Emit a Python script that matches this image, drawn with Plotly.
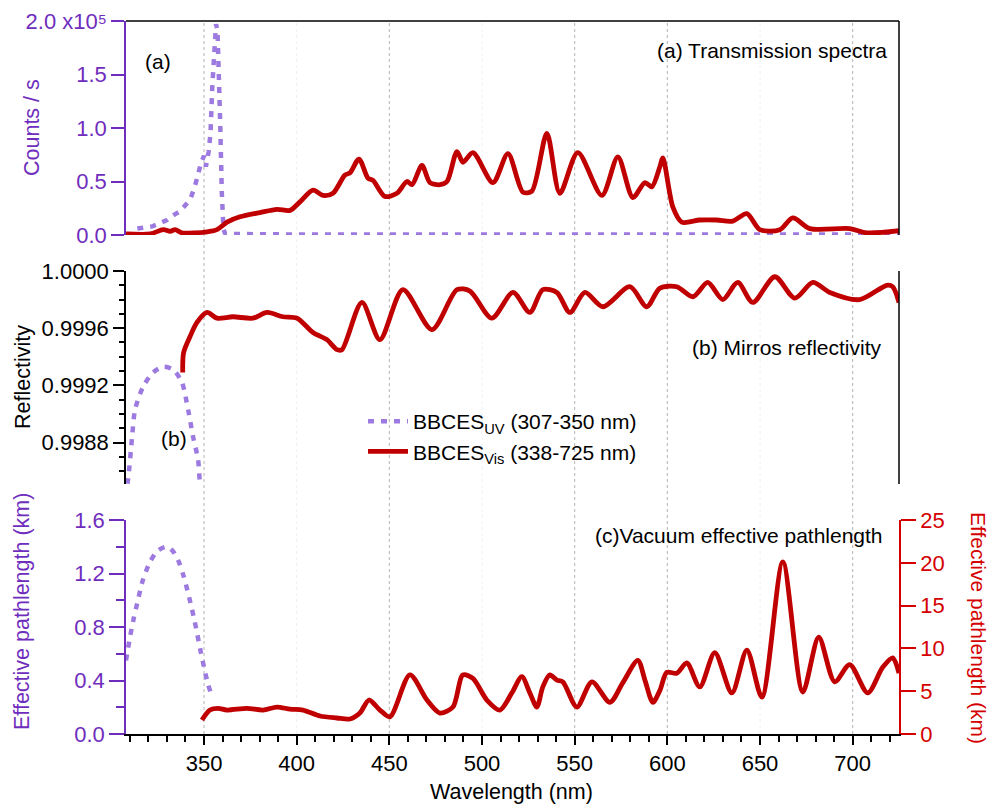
import plotly.graph_objects as go

# ---------------- data ----------------
# (a) transmission spectra, counts/s in units of 1e5
uv_a_wl = [314, 318, 322, 326, 330, 334, 337, 340, 342.5, 345, 347, 348.5, 350, 351, 352.5,
           353.5, 354.5, 355.5, 356.5, 357.3, 358, 358.8, 359.6, 360.5, 361.5, 400, 500, 600, 725]
uv_a_counts = [0.06, 0.065, 0.08, 0.11, 0.14, 0.19, 0.22, 0.28, 0.33, 0.45, 0.6, 0.68, 0.74, 0.64, 0.78,
               0.95, 1.4, 1.8, 1.97, 1.9, 1.6, 1.0, 0.4, 0.05, 0.01, 0.005, 0.005, 0.005, 0.005]

vis_a_wl = [307.9, 321, 328, 331.7, 334.4, 338, 345, 351.6, 357, 362.4, 369.4, 380.2, 389.4, 396.4,
            401.8, 408.8, 414.2, 419.6, 426, 428.7, 433.6, 438.5, 441.2, 447.6, 454.1, 459.5, 462.2,
            467.6, 471.9, 477.3, 481.1, 486.5, 489.7, 495.1, 505.9, 514, 522.1, 526.9, 535, 542,
            551.7, 564.7, 573.3, 581.4, 587.9, 591.6, 596, 597.6, 603, 607.8, 617.5, 626.7, 635.3,
            642.9, 649.9, 660.7, 667.7, 676.9, 698.4, 707.6, 725]
vis_a_counts = [0.01, 0.01, 0.05, 0.035, 0.05, 0.02, 0.02, 0.03, 0.05, 0.12, 0.17, 0.21, 0.24, 0.23,
                0.31, 0.42, 0.37, 0.39, 0.56, 0.58, 0.71, 0.53, 0.51, 0.36, 0.39, 0.5, 0.47,
                0.65, 0.49, 0.47, 0.5, 0.78, 0.68, 0.77, 0.49, 0.76, 0.40, 0.41, 0.95, 0.39,
                0.77, 0.37, 0.73, 0.35, 0.49, 0.45, 0.64, 0.72, 0.26, 0.12, 0.14, 0.14, 0.13,
                0.2, 0.05, 0.05, 0.16, 0.06, 0.06, 0.02, 0.04]

# (b) mirror reflectivity
uv_b_wl = [307.5, 309, 311.2, 312.8, 317.1, 322.5, 327.9, 333.3, 338.1, 341.4, 344.1, 346.8, 347.8, 349.5]
uv_b_refl = [0.99842, 0.99854, 0.99884, 0.99903, 0.99919, 0.99929, 0.99933, 0.99931, 0.99922, 0.99903,
             0.99884, 0.99868, 0.99852, 0.99840]

vis_b_wl = [338.5, 339, 342.4, 346.2, 351.6, 357, 365.6, 376.4, 384, 392.6, 400.2, 408.8, 416.3, 421.7,
            424.4, 435.2, 444.9, 457.3, 473, 486.5, 493.5, 505.3, 516.7, 525.8, 532.8, 540.4, 547.4,
            555.5, 565.2, 579.8, 588.9, 596, 605.1, 613.8, 621.8, 629.9, 638, 646.1, 658, 668.8,
            678.5, 687.7, 703.8, 718.4, 721.6, 725]
vis_b_refl = [0.99929, 0.99943, 0.99954, 0.99964, 0.99971, 0.99967, 0.99968, 0.99967, 0.99971, 0.99968,
              0.99967, 0.99957, 0.99952, 0.99945, 0.99945, 0.99978, 0.99952, 0.99987, 0.99959, 0.99987,
              0.99986, 0.99967, 0.99985, 0.99971, 0.99987, 0.99985, 0.99971, 0.99985, 0.99975, 0.99989,
              0.99975, 0.99988, 0.99989, 0.99982, 0.99992, 0.99980, 0.99992, 0.99978, 0.99996, 0.99981,
              0.99992, 0.99985, 0.99980, 0.99990, 0.99989, 0.99978]

# (c) vacuum effective pathlength (km)
uv_c_wl = [307.9, 310, 312, 314, 317, 321, 325, 330, 333, 336, 339, 342, 345, 348, 350, 352, 354.3]
uv_c_len = [0.55, 0.72, 0.86, 0.98, 1.15, 1.29, 1.37, 1.40, 1.37, 1.30, 1.18, 1.02, 0.84, 0.63, 0.50, 0.38, 0.28]

vis_c_wl = [348.9, 353.2, 357.6, 362.4, 373.2, 381.8, 389.4, 396.4, 403.4, 412.6, 421.7, 428.7, 434.1,
            439, 444.9, 450.3, 461.1, 470.3, 477.3, 484.3, 489.7, 495.1, 502.6, 509.7, 516.1, 521.5,
            525.8, 529.6, 532.8, 536.6, 540.4, 543.6, 551.2, 559.3, 569, 576, 584.1, 587.9, 592.2,
            596, 599.7, 605.1, 610.5, 617.5, 625.6, 634.8, 642.9, 651, 662.3, 673.1, 681.7, 690.3,
            698.4, 708.1, 716.2, 721.6, 725]
vis_c_len = [1.64, 2.8, 3.0, 2.8, 3.0, 2.8, 3.15, 2.9, 2.8, 2.1, 1.87, 1.75, 2.45,
             3.97, 2.8, 2.0, 6.9, 3.97, 2.45, 3.15, 6.9, 6.5, 3.97, 2.8, 4.8, 6.7,
             4.8, 3.15, 5.5, 6.9, 6.3, 6.1, 3.15, 6.1, 3.7, 6.0, 8.6, 6.3, 3.7,
             5.1, 7.2, 7.1, 8.3, 5.5, 9.5, 4.8, 9.8, 4.3, 20.1, 4.9, 11.3, 6.1,
             8.1, 4.8, 7.8, 8.9, 7.1]

x_ticks = [350, 400, 450, 500, 550, 600, 650, 700]
counts_ticks = [0, 0.5, 1.0, 1.5, 2.0]
counts_ticktext = ["0.0", "0.5", "1.0", "1.5", "2.0 x10⁵"]
refl_ticks = [0.9988, 0.9992, 0.9996, 1.0000]
uvlen_ticks = [0, 0.4, 0.8, 1.2, 1.6]
vislen_ticks = [0, 5, 10, 15, 20, 25]

# ---------------- style ----------------
FONT = "Liberation Sans, Arial, sans-serif"
PURPLE_LINE = "#9d7ae0"
PURPLE_AX = "#6f2dbd"
RED_LINE = "#c00000"
RED_AX = "#d40000"
DASH = "6px,7px"
FAINT_GRID = {400, 500, 650}

W, H = 987, 801      # page body has an 8px margin
OFF = 8

def fx(x):
    return (x - OFF) / W

def fy(y):
    return 1 - (y - OFF) / H

XR = [307.9, 725]
XD = [fx(126), fx(899)]
DOM_A = [fy(235), fy(21)]
DOM_B = [fy(484), fy(271)]
DOM_C = [fy(734), fy(520)]

fig = go.Figure()
fig.add_trace(go.Scatter(x=uv_a_wl, y=uv_a_counts, xaxis="x2", yaxis="y4", mode="lines",
                         line=dict(color=PURPLE_LINE, width=4.5, dash=DASH), showlegend=False))
fig.add_trace(go.Scatter(x=vis_a_wl, y=vis_a_counts, xaxis="x2", yaxis="y4", mode="lines",
                         line=dict(color=RED_LINE, width=4.8, shape="spline", smoothing=0.8),
                         showlegend=False))
fig.add_trace(go.Scatter(x=uv_b_wl, y=uv_b_refl, xaxis="x3", yaxis="y3", mode="lines",
                         name="BBCES<sub>UV</sub> (307-350 nm)",
                         line=dict(color=PURPLE_LINE, width=4.5, dash=DASH, shape="spline", smoothing=0.8)))
fig.add_trace(go.Scatter(x=vis_b_wl, y=vis_b_refl, xaxis="x3", yaxis="y3", mode="lines",
                         name="BBCES<sub>Vis</sub> (338-725 nm)",
                         line=dict(color=RED_LINE, width=4.8, shape="spline", smoothing=0.8)))
fig.add_trace(go.Scatter(x=uv_c_wl, y=uv_c_len, xaxis="x", yaxis="y", mode="lines",
                         line=dict(color=PURPLE_LINE, width=4.5, dash=DASH, shape="spline", smoothing=0.8),
                         showlegend=False))
fig.add_trace(go.Scatter(x=vis_c_wl, y=vis_c_len, xaxis="x", yaxis="y2", mode="lines",
                         line=dict(color=RED_LINE, width=4.8, shape="spline", smoothing=0.8),
                         showlegend=False))

tickfont_black = dict(family=FONT, size=22, color="black")

shapes = []
for v in x_ticks:
    col = "#f0f0f0" if v in FAINT_GRID else "#b4b4b4"
    shapes.append(dict(type="line", xref="x", yref="paper", x0=v, x1=v, y0=DOM_C[0], y1=DOM_A[1],
                       line=dict(color=col, width=1, dash="dot"), layer="below"))
# frame lines of panel (a) and right edge of panel (b)
shapes.append(dict(type="line", xref="x2 domain", yref="y4 domain", x0=0, x1=1, y0=1, y1=1,
                   line=dict(color="black", width=1.5)))
shapes.append(dict(type="line", xref="x2 domain", yref="y4 domain", x0=1, x1=1, y0=0, y1=1,
                   line=dict(color="black", width=1.5)))
shapes.append(dict(type="line", xref="x3 domain", yref="y3 domain", x0=1, x1=1, y0=0, y1=1,
                   line=dict(color="black", width=1.5)))

annotations = []
def ann(text, x, y, color="black", size=21, angle=0, xanchor="center"):
    annotations.append(dict(text=text, x=fx(x), y=fy(y), xref="paper", yref="paper", showarrow=False,
                            textangle=angle, xanchor=xanchor, yanchor="middle",
                            font=dict(family=FONT, size=size, color=color)))

ann("Counts / s", 32, 128, PURPLE_AX, 21.5, -90)
ann("Reflectivity", 23, 377, "black", 21.5, -90)
ann("Effective pathlength (km)", 22, 612, PURPLE_AX, 21.5, -90)
ann("Effective pathlength (km)", 979, 628, RED_AX, 21, 90)
ann("Wavelength (nm)", 512, 792, "black", 21.5)
ann("(a)", 158, 62)
ann("(a) Transmission spectra", 889, 50, xanchor="right")
ann("(b) Mirros reflectivity", 884, 348, xanchor="right")
ann("(b)", 174, 438)
ann("(c)Vacuum effective pathlength", 885, 535, xanchor="right")

axis_common = dict(automargin=False)

fig.update_layout(
    width=W, height=H,
    margin=dict(l=0, r=0, t=0, b=0, autoexpand=False),
    paper_bgcolor="white", plot_bgcolor="rgba(0,0,0,0)",
    font=dict(family=FONT, size=21, color="black"),
    showlegend=True,
    legend=dict(x=fx(363), y=fy(401), xanchor="left", yanchor="top",
                bgcolor="rgba(0,0,0,0)", font=dict(family=FONT, size=21, color="black"),
                tracegroupgap=0, itemwidth=40),
    xaxis=dict(domain=XD, range=XR, anchor="y", tickmode="array", tickvals=x_ticks,
               ticks="outside", ticklen=9, tickwidth=1.5, tickcolor="black",
               showline=True, linecolor="black", linewidth=1.5, showgrid=False, zeroline=False,
               tickfont=tickfont_black,
               minor=dict(tickmode="linear", tick0=300, dtick=10, ticks="outside", ticklen=6,
                          tickcolor="black", tickwidth=1.5, showgrid=False), **axis_common),
    xaxis2=dict(domain=XD, range=XR, anchor="y4", matches="x", visible=False, **axis_common),
    xaxis3=dict(domain=XD, range=XR, anchor="y3", matches="x", visible=False, **axis_common),
    yaxis=dict(domain=DOM_C, range=[0, 1.6], anchor="x", tickmode="array", tickvals=uvlen_ticks,
               tickformat=".1f", ticks="outside", ticklen=15, tickwidth=1.5, tickcolor=PURPLE_AX,
               showline=True, linecolor=PURPLE_AX, linewidth=1.5, showgrid=False, zeroline=False,
               tickfont=dict(family=FONT, size=22, color=PURPLE_AX), ticklabeloverflow="allow",
               minor=dict(tickmode="linear", tick0=0, dtick=0.2, ticks="outside", ticklen=8,
                          tickcolor=PURPLE_AX, tickwidth=1.5, showgrid=False), **axis_common),
    yaxis2=dict(range=[0, 25], overlaying="y", side="right", anchor="x", tickmode="array",
                tickvals=vislen_ticks, ticks="outside", ticklen=15, tickwidth=1.5, tickcolor=RED_AX,
                showline=True, linecolor=RED_AX, linewidth=1.5, showgrid=False, zeroline=False,
                tickfont=dict(family=FONT, size=22, color=RED_AX), ticklabeloverflow="allow",
                **axis_common),
    yaxis3=dict(domain=DOM_B, range=[0.99851, 1.0000001], anchor="x3", tickmode="array",
                tickvals=refl_ticks, tickformat=".4f", ticks="outside", ticklen=11, tickwidth=1.5,
                tickcolor="black", showline=True, linecolor="black", linewidth=1.5,
                showgrid=False, zeroline=False, tickfont=tickfont_black, ticklabeloverflow="allow",
                minor=dict(tickmode="linear", tick0=0.9988, dtick=0.0001, ticks="outside", ticklen=5,
                           tickcolor="black", tickwidth=1.5, showgrid=False), **axis_common),
    yaxis4=dict(domain=DOM_A, range=[0, 2.0001], anchor="x2", tickmode="array",
                tickvals=counts_ticks, ticktext=counts_ticktext, ticks="outside", ticklen=13,
                tickwidth=1.5, tickcolor=PURPLE_AX, showline=True, linecolor=PURPLE_AX,
                linewidth=1.5, showgrid=False, zeroline=False, ticklabeloverflow="allow",
                tickfont=dict(family=FONT, size=22, color=PURPLE_AX), **axis_common),
    shapes=shapes,
    annotations=annotations,
)

fig.write_html("out.html")
